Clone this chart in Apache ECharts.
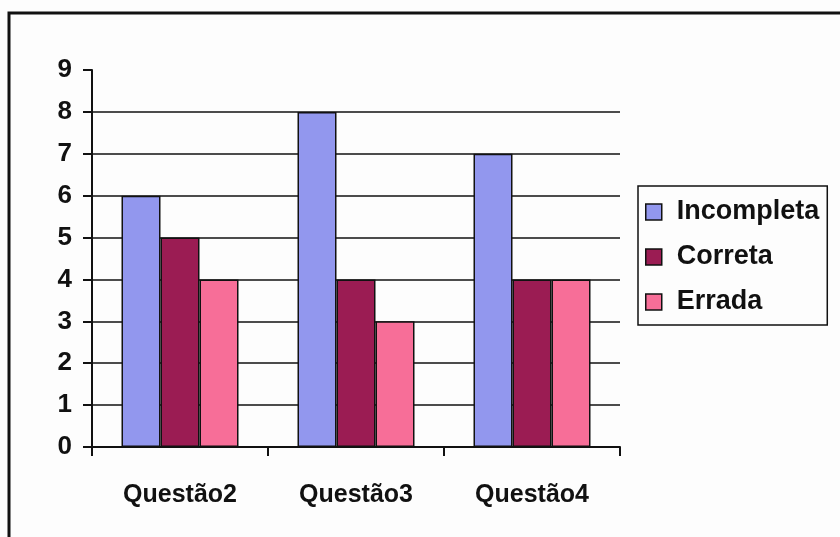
<!DOCTYPE html>
<html><head><meta charset="utf-8">
<script src="https://cdn.jsdelivr.net/npm/echarts@6/dist/echarts.min.js"></script>
<style>html,body{margin:0;padding:0;background:#fff}#c{width:840px;height:537px}</style>
</head><body><div id="c"></div>
<script>
const categories = ['Questão2', 'Questão3', 'Questão4'];
const incompleta = [6, 8, 7];
const correta = [5, 4, 4];
const errada = [4, 3, 4];
const yTicks = [0, 1, 2, 3, 4, 5, 6, 7, 8, 9];

const chart = echarts.init(document.getElementById('c'));
const font = 'Liberation Sans, Arial, sans-serif';
const gridColors = yTicks.map((v, i) => i === yTicks.length - 1 ? 'rgba(0,0,0,0)' : '#111');
const barStyle = c => ({ color: c, borderColor: '#111', borderWidth: 1.5 });
chart.setOption({
  backgroundColor: '#fdfdfd',
  animation: false,
  graphic: [{
    type: 'rect', shape: { x: 9, y: 13, width: 900, height: 600 },
    style: { fill: 'none', stroke: '#111', lineWidth: 3 }, silent: true
  }],
  grid: { left: 92, right: 220, top: 70, bottom: 90 },
  legend: {
    orient: 'vertical', left: 638, top: 186,
    padding: [12, 8, 9, 7], itemGap: 17,
    borderColor: '#111', borderWidth: 1.5,
    icon: 'rect', itemWidth: 16, itemHeight: 16,
    itemStyle: { borderColor: '#111', borderWidth: 1.5 },
    textStyle: { fontFamily: font, fontWeight: 'bold', fontSize: 27, lineHeight: 28, color: '#111', padding: [0, 0, 0, 10] },
    data: ['Incompleta', 'Correta', 'Errada']
  },
  xAxis: {
    type: 'category', data: categories, boundaryGap: true,
    axisLine: { lineStyle: { color: '#111', width: 2 } },
    axisTick: { show: true, alignWithLabel: false, length: 9, lineStyle: { color: '#111', width: 2 } },
    axisLabel: { fontFamily: font, fontWeight: 'bold', fontSize: 25, color: '#111', margin: 36 }
  },
  yAxis: {
    type: 'value', min: 0, max: 9, interval: 1,
    axisLine: { show: true, lineStyle: { color: '#111', width: 2 } },
    axisTick: { show: true, length: 9, lineStyle: { color: '#111', width: 2 } },
    axisLabel: { fontFamily: font, fontWeight: 'bold', fontSize: 26, color: '#111', margin: 20 },
    splitLine: { show: true, lineStyle: { color: gridColors, width: 1.5 } }
  },
  series: [
    { name: 'Incompleta', type: 'bar', data: incompleta, barWidth: 39, barGap: '0%', itemStyle: barStyle('#9297ee') },
    { name: 'Correta', type: 'bar', data: correta, barWidth: 39, barGap: '0%', itemStyle: barStyle('#9b1c53') },
    { name: 'Errada', type: 'bar', data: errada, barWidth: 39, barGap: '0%', itemStyle: barStyle('#f76e98') }
  ]
});
</script></body></html>
